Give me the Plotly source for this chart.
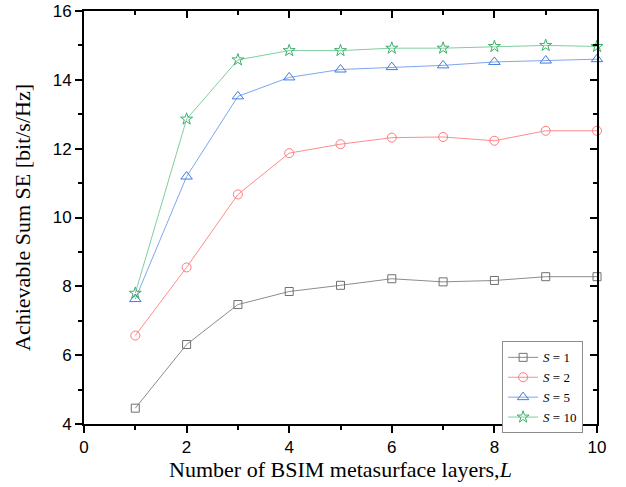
import plotly.graph_objects as go

# Number of BSIM metasurface layers
layers = [1, 2, 3, 4, 5, 6, 7, 8, 9, 10]

# Achievable sum spectral efficiency [bit/s/Hz] for each number of streams S
se_s1 = [4.46, 6.31, 7.47, 7.85, 8.03, 8.22, 8.13, 8.17, 8.28, 8.28]
se_s2 = [6.57, 8.55, 10.67, 11.87, 12.13, 12.32, 12.34, 12.23, 12.52, 12.52]
se_s5 = [7.63, 11.19, 13.52, 14.07, 14.30, 14.37, 14.42, 14.52, 14.56, 14.60]
se_s10 = [7.80, 12.86, 14.58, 14.85, 14.85, 14.92, 14.92, 14.97, 15.00, 14.97]

series_labels = ["<i>S</i> = 1", "<i>S</i> = 2", "<i>S</i> = 5", "<i>S</i> = 10"]

x_ticks = [0, 2, 4, 6, 8, 10]
y_ticks = [4, 6, 8, 10, 12, 14, 16]

styles = [
    dict(line="#8c8c8c", marker="#707070", symbol="square-open", size=8),
    dict(line="#ff8c8c", marker="#ff7a7a", symbol="circle-open", size=9),
    dict(line="#7fa6ee", marker="#3f7be0", symbol="triangle-up-open", size=10),
    dict(line="#7fcf9f", marker="#3fae6c", symbol="star-open", size=9),
]

fig = go.Figure()
for ys, name, st in zip([se_s1, se_s2, se_s5, se_s10], series_labels, styles):
    fig.add_trace(go.Scatter(
        x=layers, y=ys, name=name, mode="lines+markers",
        line=dict(color=st["line"], width=1),
        marker=dict(symbol=st["symbol"], size=st["size"], color=st["marker"],
                    line=dict(width=1, color=st["marker"])),
        cliponaxis=False,
    ))

tick_font = dict(family="Liberation Sans, Arial, sans-serif", size=17, color="black")
title_font = dict(family="Liberation Serif, Times New Roman, serif", size=22, color="black")

fig.update_layout(
    width=626, height=487,
    margin=dict(l=84, r=29, t=11, b=63),
    paper_bgcolor="white", plot_bgcolor="white",
    showlegend=True,
    legend=dict(
        x=0.815, y=0.20, xanchor="left", yanchor="top",
        bgcolor="white", bordercolor="#8c8c8c", borderwidth=1,
        font=dict(family="Liberation Serif, Times New Roman, serif", size=13, color="black"),
        tracegroupgap=0, itemwidth=30,
    ),
    xaxis=dict(
        range=[0, 10], tickvals=x_ticks, showgrid=False, zeroline=False,
        showline=True, linecolor="black", linewidth=2, automargin=False,
        ticks="outside", ticklen=7, tickwidth=1.5, tickcolor="black",
        minor=dict(ticks="outside", ticklen=4, tickwidth=1.5, dtick=1, tickcolor="black"),
        tickfont=tick_font,
        title=dict(text="Number of BSIM metasurface layers,<i>L</i>", font=title_font, standoff=5),
    ),
    yaxis=dict(
        range=[4, 16], tickvals=y_ticks, showgrid=False, zeroline=False,
        showline=True, linecolor="black", linewidth=2, automargin=False,
        ticks="outside", ticklen=7, tickwidth=1.5, tickcolor="black",
        minor=dict(ticks="outside", ticklen=4, tickwidth=1.5, dtick=1, tickcolor="black"),
        tickfont=tick_font,
        title=dict(text="Achievable Sum SE [bit/s/Hz]", font=title_font, standoff=16),
    ),
    # Mirrored frame on top and right with inward ticks
    xaxis2=dict(
        range=[0, 10], tickvals=x_ticks, overlaying="x", side="top", anchor="y",
        showgrid=False, zeroline=False, showticklabels=False, automargin=False,
        showline=True, linecolor="black", linewidth=2,
        ticks="inside", ticklen=7, tickwidth=1.5, tickcolor="black",
        minor=dict(ticks="inside", ticklen=4, tickwidth=1.5, dtick=1, tickcolor="black"),
    ),
    yaxis2=dict(
        range=[4, 16], tickvals=y_ticks, overlaying="y", side="right", anchor="x",
        showgrid=False, zeroline=False, showticklabels=False, automargin=False,
        showline=True, linecolor="black", linewidth=2,
        ticks="inside", ticklen=7, tickwidth=1.5, tickcolor="black",
        minor=dict(ticks="inside", ticklen=4, tickwidth=1.5, dtick=1, tickcolor="black"),
    ),
)

# Invisible trace so the mirrored axes are laid out
fig.add_trace(go.Scatter(x=[None], y=[None], xaxis="x2", yaxis="y2",
                         showlegend=False, hoverinfo="skip"))

fig.write_html("out.html")
